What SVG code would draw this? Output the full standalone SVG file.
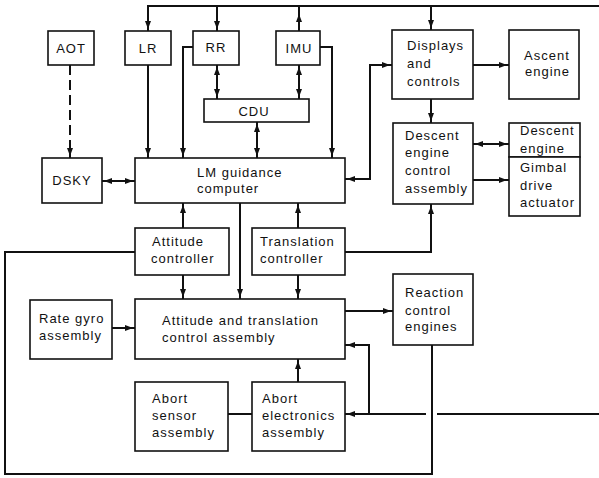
<svg xmlns="http://www.w3.org/2000/svg" width="599" height="478" viewBox="0 0 599 478">
<style>
.b{fill:#fff;stroke:#111;stroke-width:1.6}
.t{font-family:"Liberation Sans",Arial,sans-serif;font-size:13px;letter-spacing:1px;fill:#111}
.c{text-anchor:middle}
.l{fill:none;stroke:#111;stroke-width:2}
.a{marker-end:url(#ah)}
.s{marker-start:url(#ah)}
.d{stroke-dasharray:10 5}
</style>
<defs>
<marker id="ah" viewBox="0 0 10 6" refX="10" refY="3" markerWidth="10" markerHeight="6" markerUnits="userSpaceOnUse" orient="auto-start-reverse"><path d="M0,0 L8,3 L0,6 z" fill="#111"/></marker>
</defs>
<rect width="599" height="478" fill="#fff"/>
<g id="connectors">
<path class="l a" d="M599,6 H148 V31"/>
<path class="l a" d="M217,6 V31"/>
<path class="l a" d="M299,31 V12"/>
<path class="l" d="M299,14 V6"/>
<path class="l a s" d="M217,65 V99"/>
<path class="l a s" d="M299,65 V99"/>
<path class="l a s" d="M257,122 V158"/>
<path class="l a" d="M193,47 H183 V158"/>
<path class="l a" d="M148,65 V158"/>
<path class="l a" d="M320,47 H332 V158"/>
<path class="l d" d="M70,65 V148"/>
<path class="l a" d="M70,146 V158"/>
<path class="l a s" d="M102,181 H135"/>
<path class="l a s" d="M345,179 H370 V65 H392"/>
<path class="l a" d="M183,228 V203"/>
<path class="l a" d="M240,203 V299"/>
<path class="l a" d="M298,228 V203"/>
<path class="l a" d="M183,275 V299"/>
<path class="l a" d="M298,275 V299"/>
<path class="l a" d="M345,252 H431 V204"/>
<path class="l" d="M135,252 H5 V474 H432 V345"/>
<path class="l a" d="M112,328 H135"/>
<path class="l a" d="M345,311 H393"/>
<path class="l" d="M599,414 H437"/>
<path class="l a" d="M426,414 H345"/>
<path class="l a" d="M369,414 V345 H345"/>
<path class="l a" d="M298,382 V359"/>
<path class="l" d="M228,414 H252"/>
<path class="l a" d="M431,6 V30"/>
<path class="l a" d="M431,99 V123"/>
<path class="l a" d="M473,65 H509"/>
<path class="l a s" d="M473,144 H509"/>
<path class="l a" d="M473,180 H509"/>
</g>
<g id="aot"><rect class="b" x="48" y="31" width="46" height="34"/><text class="t c" x="71" y="53">AOT</text></g>
<g id="lr"><rect class="b" x="125" y="31" width="46" height="34"/><text class="t c" x="148" y="53">LR</text></g>
<g id="rr"><rect class="b" x="193" y="31" width="46" height="34"/><text class="t c" x="216" y="52">RR</text></g>
<g id="imu"><rect class="b" x="276" y="31" width="44" height="34"/><text class="t c" x="299" y="53">IMU</text></g>
<g id="cdu"><rect class="b" x="204" y="99" width="105" height="23"/><text class="t c" x="254" y="116">CDU</text></g>
<g id="dsky"><rect class="b" x="42" y="158" width="60" height="45"/><text class="t c" x="72" y="185">DSKY</text></g>
<g id="lgc"><rect class="b" x="135" y="158" width="210" height="45"/><text class="t" x="197" y="177">LM guidance</text><text class="t" x="197" y="193">computer</text></g>
<g id="displays"><rect class="b" x="392" y="30" width="81" height="69"/><text class="t" x="407" y="50">Displays</text><text class="t" x="407" y="68">and</text><text class="t" x="407" y="86">controls</text></g>
<g id="ascent"><rect class="b" x="509" y="30" width="70" height="69"/><text class="t" x="524" y="60">Ascent</text><text class="t" x="525" y="76">engine</text></g>
<g id="deca"><rect class="b" x="393" y="123" width="80" height="81"/><text class="t" x="405" y="140">Descent</text><text class="t" x="405" y="157">engine</text><text class="t" x="405" y="175">control</text><text class="t" x="405" y="193">assembly</text></g>
<g id="descent"><rect class="b" x="509" y="123" width="71" height="34"/><text class="t" x="520" y="135">Descent</text><text class="t" x="520" y="153">engine</text></g>
<g id="gimbal"><rect class="b" x="509" y="157" width="71" height="59"/><text class="t" x="520" y="172">Gimbal</text><text class="t" x="520" y="190">drive</text><text class="t" x="520" y="207">actuator</text></g>
<g id="attctl"><rect class="b" x="135" y="228" width="94" height="47"/><text class="t" x="152" y="246">Attitude</text><text class="t" x="151" y="263">controller</text></g>
<g id="trnctl"><rect class="b" x="252" y="228" width="93" height="47"/><text class="t" x="260" y="246">Translation</text><text class="t" x="260" y="263">controller</text></g>
<g id="rategyro"><rect class="b" x="30" y="300" width="82" height="59"/><text class="t" x="39" y="323">Rate gyro</text><text class="t" x="39" y="340">assembly</text></g>
<g id="atca"><rect class="b" x="135" y="299" width="210" height="60"/><text class="t" x="162" y="325">Attitude and translation</text><text class="t" x="162" y="342">control assembly</text></g>
<g id="rce"><rect class="b" x="393" y="274" width="80" height="71"/><text class="t" x="405" y="297">Reaction</text><text class="t" x="405" y="315">control</text><text class="t" x="405" y="331">engines</text></g>
<g id="asa"><rect class="b" x="135" y="382" width="93" height="69"/><text class="t" x="152" y="403">Abort</text><text class="t" x="152" y="420">sensor</text><text class="t" x="152" y="437">assembly</text></g>
<g id="aea"><rect class="b" x="252" y="382" width="93" height="69"/><text class="t" x="262" y="403">Abort</text><text class="t" x="262" y="420">electronics</text><text class="t" x="262" y="437">assembly</text></g>
</svg>
